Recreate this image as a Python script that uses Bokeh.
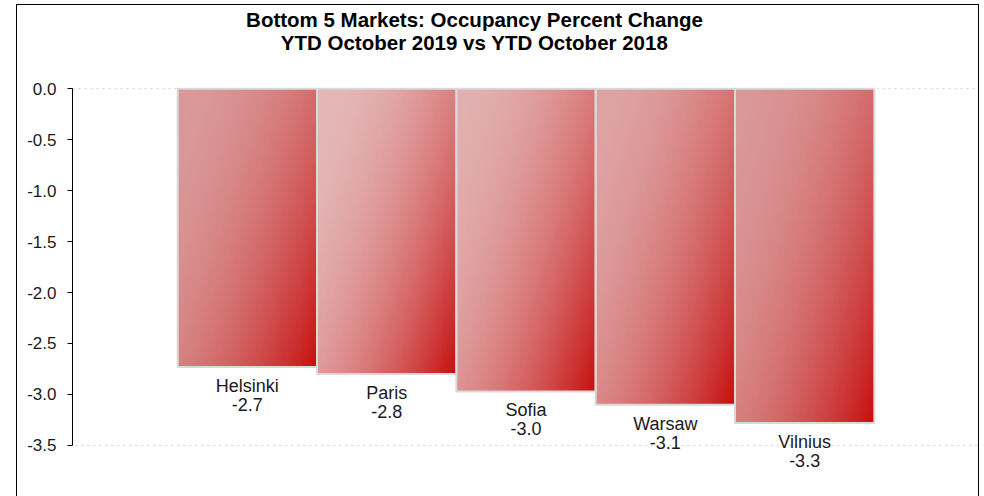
import numpy as np
from bokeh.plotting import figure
from bokeh.models import Range1d, FixedTicker, NumeralTickFormatter, ColumnDataSource, LabelSet, Label
from bokeh.core.properties import value
from bokeh.embed import file_html
from bokeh.resources import INLINE

# ---- data ----
markets = ["Helsinki", "Paris", "Sofia", "Warsaw", "Vilnius"]
changes = [-2.73, -2.80, -2.97, -3.10, -3.28]
y_ticks = [0.0, -0.5, -1.0, -1.5, -2.0, -2.5, -3.0, -3.5]
title_line1 = "Bottom 5 Markets: Occupancy Percent Change"
title_line2 = "YTD October 2019 vs YTD October 2018"

# style: light colour at the top-left corner of each bar's gradient
top_colors = [(218, 154, 154), (228, 184, 184), (226, 176, 176), (222, 164, 164), (218, 152, 152)]
end_color = (200, 15, 15)

FONT = "Liberation Sans"
y_lo, y_hi = min(y_ticks), max(y_ticks)

p = figure(width=963, height=492, output_backend="svg", toolbar_location=None,
           x_range=Range1d(-1.255, 5.255), y_range=Range1d(-4.011, 0.816),
           min_border_left=55, min_border_right=1, min_border_top=0, min_border_bottom=0)
p.styles = {"border-top": "1px solid black", "border-left": "1px solid black",
            "border-right": "1px solid black", "box-sizing": "border-box",
            "margin-left": "16px", "margin-top": "4px"}

p.xaxis.visible = False
p.xgrid.visible = False
p.ygrid.visible = False
p.outline_line_color = None

# plot-area border (dotted)
p.quad(left=[p.x_range.start], right=[p.x_range.end], top=[y_hi], bottom=[y_lo],
       fill_color=None, line_color="#d0d0d0", line_dash="dotted", line_width=1)

yax = p.yaxis[0]
yax.bounds = (y_lo, y_hi)
yax.ticker = FixedTicker(ticks=y_ticks)
yax.formatter = NumeralTickFormatter(format="0.0")
yax.axis_line_color = "black"
yax.major_tick_line_color = "black"
yax.major_tick_out = 5
yax.major_tick_in = 0
yax.minor_tick_line_color = None
yax.major_label_text_font = FONT
yax.major_label_text_font_size = "17px"
yax.major_label_text_color = "#1a1a1a"
yax.major_label_standoff = 11

# gradient bars
H, W = 160, 80
u = np.linspace(0, 1, W)[None, :]
for i, (val, tc) in enumerate(zip(changes, top_colors)):
    v = 1 - np.linspace(0, 1, H)[:, None]  # row 0 is bottom of bar -> v=1
    s = 0.58 * u + 0.42 * v
    t = s ** 2
    img = np.empty((H, W), dtype=np.uint32)
    view = img.view(dtype=np.uint8).reshape((H, W, 4))
    for c in range(3):
        view[:, :, c] = np.clip(tc[c] + (end_color[c] - tc[c]) * t, 0, 255).astype(np.uint8)
    view[:, :, 3] = 255
    p.image_rgba(image=[img], x=i - 0.5, y=val, dw=1, dh=-val)

xs = list(range(len(markets)))
src = ColumnDataSource(dict(x=xs, top=[0.0] * len(xs), bottom=changes,
                            name=markets, lab=["%.1f" % c for c in changes]))
p.vbar(x="x", top="top", bottom="bottom", width=1, source=src,
       fill_color=None, line_color="#d9d9d9", line_width=2)

p.add_layout(LabelSet(x="x", y="bottom", text="name", source=src, y_offset=-9,
                      text_align="center", text_baseline="top", text_font=value(FONT),
                      text_font_size=value("18px"), text_color="#1a1a1a"))
p.add_layout(LabelSet(x="x", y="bottom", text="lab", source=src, y_offset=-31,
                      text_align="center", text_baseline="top", text_font=value(FONT),
                      text_font_size=value("18px"), text_color="#1a1a1a"))

for txt, ypix in ((title_line1, 478), (title_line2, 455)):
    p.add_layout(Label(x=402, y=ypix, x_units="screen", y_units="screen", text=txt,
                       text_align="center", text_baseline="middle", text_font=FONT,
                       text_font_size="20.5px", text_font_style="bold", text_color="black"))

open("out.html", "w").write(file_html(p, INLINE))
